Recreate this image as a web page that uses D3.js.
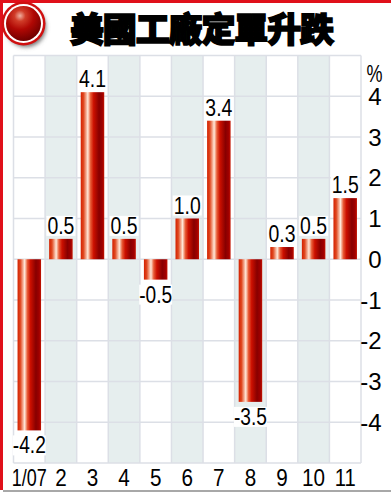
<!DOCTYPE html>
<html>
<head>
<meta charset="utf-8">
<script src="https://cdn.jsdelivr.net/npm/d3@7"></script>
<style>
  html, body { margin: 0; padding: 0; background: #fff; }
  svg { display: block; }
  text { font-family: "Liberation Sans", sans-serif; fill: #000; }
</style>
</head>
<body>
<div id="root"></div>
<script>
const title = '美國工廠定單升跌';
const months = ['1/07', '2', '3', '4', '5', '6', '7', '8', '9', '10', '11'];
const values = [-4.2, 0.5, 4.1, 0.5, -0.5, 1.0, 3.4, -3.5, 0.3, 0.5, 1.5];
const valueLabels = ['-4.2', '0.5', '4.1', '0.5', '-0.5', '1.0', '3.4', '-3.5', '0.3', '0.5', '1.5'];
const yTicks = [4, 3, 2, 1, 0, -1, -2, -3, -4];

const width = 391;
const height = 492;
const svg = d3.select('#root').append('svg')
  .attr('width', width)
  .attr('height', height);

const defs = svg.append('defs');

// bar shading: red edge, pale highlight, deep red on the right
const barGrad = defs.append('linearGradient').attr('id', 'barGrad');
[
  ['0%', '#d42000'],
  ['12%', '#e04820'],
  ['30%', '#ffe8d8'],
  ['42%', '#e85a34'],
  ['55%', '#cc1000'],
  ['78%', '#880000'],
  ['92%', '#a00000'],
  ['100%', '#c41400'],
].forEach(([o, c]) => barGrad.append('stop').attr('offset', o).attr('stop-color', c));

const ballGrad = defs.append('radialGradient').attr('id', 'ballGrad')
  .attr('cx', '40%').attr('cy', '28%').attr('r', '72%');
[
  ['0%', '#f0b0a0'],
  ['22%', '#d03c28'],
  ['55%', '#b00804'],
  ['100%', '#700000'],
].forEach(([o, c]) => ballGrad.append('stop').attr('offset', o).attr('stop-color', c));

const blur = defs.append('filter').attr('id', 'soft')
  .attr('x', '-30%').attr('y', '-30%').attr('width', '160%').attr('height', '160%');
blur.append('feGaussianBlur').attr('stdDeviation', 2);

const x = d3.scaleBand().domain(months).range([13.5, 361]);
const y = d3.scaleLinear().domain([-5, 5]).range([463, 55.5]);
const barW = 23.5;

// page frame, grey shadow along the bottom
svg.append('rect').attr('x', 3).attr('y', 490).attr('width', 388).attr('height', 2).attr('fill', '#a8a8a8');
svg.append('rect').attr('x', 0).attr('y', 0).attr('width', 391).attr('height', 3).attr('fill', '#e0101a');
svg.append('rect').attr('x', 0).attr('y', 0).attr('width', 3).attr('height', 490).attr('fill', '#e0101a');

// alternating columns
svg.append('g').selectAll('rect')
  .data(months.filter((d, i) => i % 2 === 1))
  .enter()
  .append('rect')
  .attr('x', d => x(d))
  .attr('y', y(5))
  .attr('width', x.bandwidth())
  .attr('height', y(-5) - y(5))
  .attr('fill', '#e6eeee');

// grid
const gridColor = '#dcdfe6';
svg.append('g').selectAll('line')
  .data(d3.range(-5, 6))
  .enter()
  .append('line')
  .attr('x1', x.range()[0])
  .attr('x2', x.range()[1])
  .attr('y1', d => y(d))
  .attr('y2', d => y(d))
  .attr('stroke', gridColor)
  .attr('stroke-width', 1.5);
svg.append('g').selectAll('line')
  .data(months.concat(['end']))
  .enter()
  .append('line')
  .attr('x1', (d, i) => x.range()[0] + i * x.step())
  .attr('x2', (d, i) => x.range()[0] + i * x.step())
  .attr('y1', y(5))
  .attr('y2', y(-5))
  .attr('stroke', gridColor)
  .attr('stroke-width', 1.5);

// bars
svg.append('g').selectAll('rect')
  .data(values)
  .enter()
  .append('rect')
  .attr('x', (d, i) => x(months[i]) + (x.bandwidth() - barW) / 2)
  .attr('y', d => y(Math.max(d, 0)))
  .attr('width', barW)
  .attr('height', d => Math.abs(y(d) - y(0)))
  .attr('fill', 'url(#barGrad)');

// value labels on white patches
const valG = svg.append('g').selectAll('g')
  .data(values)
  .enter()
  .append('g')
  .attr('transform', (d, i) => {
    const cx = x(months[i]) + x.bandwidth() / 2;
    return `translate(${cx},${d < 0 ? y(d) + 23 : y(d) - 5})`;
  });
valG.append('rect')
  .attr('x', d => (d < 0 ? -16.5 : -14.5))
  .attr('y', -18)
  .attr('width', d => (d < 0 ? 33 : 29))
  .attr('height', 20)
  .attr('fill', '#fff');
valG.append('text')
  .attr('text-anchor', 'middle')
  .attr('font-size', 23)
  .attr('textLength', (d, i) => (values[i] < 0 ? 33 : 27))
  .attr('lengthAdjust', 'spacingAndGlyphs')
  .text((d, i) => valueLabels[i]);

// axis labels
const monthWidths = { '1/07': 35, '10': 23, '11': 21 };
svg.append('g').selectAll('text')
  .data(months)
  .enter()
  .append('text')
  .attr('x', d => x(d) + x.bandwidth() / 2)
  .attr('y', 485.5)
  .attr('text-anchor', 'middle')
  .attr('font-size', 24)
  .attr('textLength', d => monthWidths[d] || 11.5)
  .attr('lengthAdjust', 'spacingAndGlyphs')
  .text(d => d);

svg.append('g').selectAll('text')
  .data(yTicks)
  .enter()
  .append('text')
  .attr('x', 381.5)
  .attr('y', d => y(d) + 8.5)
  .attr('text-anchor', 'end')
  .attr('font-size', 24)
  .text(d => d);

svg.append('text')
  .attr('x', 374.5)
  .attr('y', 82)
  .attr('text-anchor', 'middle')
  .attr('font-size', 24)
  .attr('textLength', 16)
  .attr('lengthAdjust', 'spacingAndGlyphs')
  .text('%');

// title
svg.append('text')
  .attr('x', 70)
  .attr('y', 42)
  .attr('font-size', 34)
  .attr('font-weight', 900)
  .attr('stroke', '#000')
  .attr('stroke-width', 1.6)
  .attr('textLength', 264)
  .style('font-family', '"Noto Sans CJK TC"')
  .text(title);

// corner ball
svg.append('circle').attr('cx', 26).attr('cy', 27).attr('r', 20).attr('fill', '#777').attr('filter', 'url(#soft)');
svg.append('circle').attr('cx', 23.5).attr('cy', 23.5).attr('r', 22).attr('fill', '#d01010');
svg.append('circle').attr('cx', 23.5).attr('cy', 23.5).attr('r', 19.5).attr('fill', '#fff');
svg.append('circle').attr('cx', 23.5).attr('cy', 23.5).attr('r', 17.5).attr('fill', 'url(#ballGrad)');
</script>
</body>
</html>
